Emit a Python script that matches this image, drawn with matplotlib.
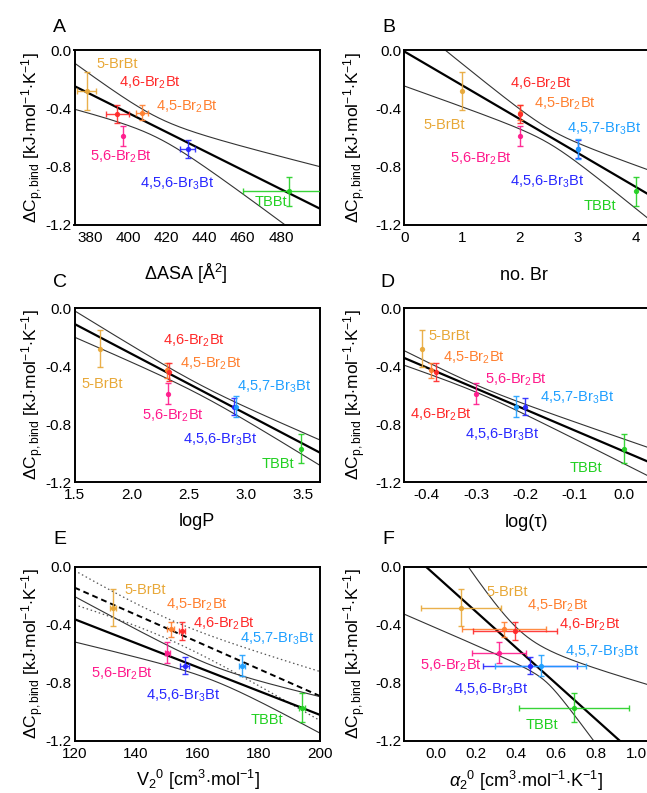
import numpy as np
import matplotlib
matplotlib.use('Agg')
import matplotlib.pyplot as plt

plt.rcParams['font.family'] = ['Liberation Sans', 'DejaVu Sans']
plt.rcParams['mathtext.fontset'] = 'custom'
plt.rcParams['mathtext.rm'] = 'Liberation Sans'
plt.rcParams['mathtext.it'] = 'Liberation Sans:italic'
plt.rcParams['mathtext.bf'] = 'Liberation Sans:bold'
plt.rcParams['axes.unicode_minus'] = False

# ---------------- data ----------------
compounds = ['5-BrBt', '4,6-Br$_2$Bt', '4,5-Br$_2$Bt', '5,6-Br$_2$Bt',
             '4,5,6-Br$_3$Bt', '4,5,7-Br$_3$Bt', 'TBBt']
colors = ['#E8A838', '#FF2A2A', '#FF8030', '#FF1A8C', '#2828FF', '#20A0FF', '#22D022']
draw_order = [0, 2, 1, 3, 4, 5, 6]

dcp = [-0.28, -0.44, -0.43, -0.59, -0.68, -0.68, -0.97]
dcp_err = [0.13, 0.06, 0.05, 0.07, 0.06, 0.07, 0.10]

# panel A: dASA (no value for 4,5,7-Br3Bt)
asa = [378, 394, 407, 397, 431, np.nan, 484]
asa_err = [5, 6, 3, 0, 4, 0, 24]
# panel B: number of Br
nbr = [1, 2, 2, 2, 3, 3, 4]
# panel C: logP
logp = [1.72, 2.33, 2.31, 2.32, 2.90, 2.91, 3.48]
# panel D: log(tau)
logtau = [-0.41, -0.38, -0.39, -0.30, -0.20, -0.22, 0.0]
# panel E: V2^0
v20 = [132.5, 155.1, 151.3, 150.2, 155.9, 174.7, 194.0]
v20_err = [1.0, 1.0, 1.0, 0.8, 1.5, 1.0, 1.0]
# panel F: alpha2^0
alpha20 = [0.125, 0.392, 0.337, 0.312, 0.47, 0.523, 0.69]
alpha20_err = [0.20, 0.21, 0.21, 0.135, 0.235, 0.227, 0.276]

# fitted lines: slope, intercept ; confidence bands: (x0, h0, k) upper, lower
fit_A = (-0.00652, 2.175); band_A = ((415, 0.07, 0.00327), (415, 0.07, 0.00327))
fit_B = (-0.232, -0.01);   band_B = ((2.5, 0.05, 0.0926), (2.5, 0.05, 0.0926))
fit_C = (-0.413, 0.5095);  band_C = ((2.6, 0.035, 0.0764), (2.6, 0.035, 0.0764))
fit_D = (-1.45, -0.99);    band_D = ((-0.29, 0.025, 0.28), (-0.29, 0.025, 0.28))
fit_E = (-0.00825, 0.63);  band_E = ((165, 0.05, 0.0033), (165, 0.05, 0.0033))
fit_E2 = (-0.00935, 0.98); band_E2 = ((150.5, 0.07, 0.00311), (150.5, 0.07, 0.00311))
fit_F = (-1.237, -0.062);  band_F = ((0.42, 0.14, 0.85), (0.55, 0.05, 0.646))

# label positions (data coords, left/center anchored)
lab_A = [(383.0, -0.096), (394.9, -0.225), (414.6, -0.39), (379.5, -0.734), (405.8, -0.917), None, (466.3, -1.044)]
lab_B = [(0.33, -0.516), (1.83, -0.23), (2.236, -0.367), (0.79, -0.745), (1.83, -0.906), (2.81, -0.539), (3.1, -1.073)]
lab_C = [(1.563, -0.523), (2.278, -0.225), (2.424, -0.385), (2.088, -0.745), (2.453, -0.906), (2.92, -0.546), (3.139, -1.078)]
lab_D = [(-0.396, -0.195), (-0.433, -0.734), (-0.366, -0.344), (-0.281, -0.493), (-0.322, -0.872), (-0.170, -0.619), (-0.11, -1.106)]
lab_E = [(136.3, -0.16), (158.6, -0.39), (149.9, -0.264), (125.4, -0.734), (143.4, -0.89), (173.9, -0.498), (177.5, -1.055)]
lab_F = [(0.253, -0.172), (0.612, -0.401), (0.453, -0.271), (-0.08, -0.683), (0.087, -0.849), (0.645, -0.585), (0.445, -1.09)]

# ---------------- figure ----------------
W, H = 647, 793
fig = plt.figure(figsize=(W / 100, H / 100), dpi=100)

def make_axes(l, t, r, b):
    return fig.add_axes([l / W, 1 - b / H, (r - l) / W, (b - t) / H])

YLABEL = r'$\Delta$C$_{\mathrm{p,bind}}$ [kJ$\cdot$mol$^{-1}$$\cdot$K$^{-1}$]'

def band(x, fit, prm, sign):
    x0, h0, k = prm
    return fit[1] + fit[0] * x + sign * np.sqrt(h0 ** 2 + (k * (x - x0)) ** 2)

def panel(box, xv, xerr, xlim, xticks, xticklabels, fit, bands, labs,
          letter, letter_xy, xlabel, xlabel_xy, ylabel_x, extra=None):
    ax = make_axes(*box)
    ax.set_xlim(*xlim)
    ax.set_ylim(-1.2, 0.0)
    xs = np.linspace(xlim[0], xlim[1], 400)
    if extra is not None:
        fit2, bands2 = extra
        ax.plot(xs, fit2[1] + fit2[0] * xs, color='black', lw=1.4, ls=(0, (3.0, 2)), zorder=2)
        ax.plot(xs, band(xs, fit2, bands2[0], 1), color='#555555', lw=0.9, ls=(0, (1.2, 2.2)), zorder=2)
        ax.plot(xs, band(xs, fit2, bands2[1], -1), color='#555555', lw=0.9, ls=(0, (1.2, 2.2)), zorder=2)
    ax.plot(xs, fit[1] + fit[0] * xs, color='black', lw=1.6, zorder=2)
    ax.plot(xs, band(xs, fit, bands[0], 1), color='#333333', lw=0.8, zorder=2)
    ax.plot(xs, band(xs, fit, bands[1], -1), color='#333333', lw=0.8, zorder=2)
    for i in draw_order:
        if np.isnan(xv[i]):
            continue
        xe = None if xerr is None or xerr[i] == 0 else xerr[i]
        ax.errorbar(xv[i], dcp[i], yerr=dcp_err[i], xerr=xe, fmt='o', ms=2.8,
                    color=colors[i], ecolor=colors[i], elinewidth=1.0,
                    capsize=2.5, capthick=1.0, zorder=3, alpha=0.9)
    for i, p in enumerate(labs):
        if p is None:
            continue
        ax.text(p[0], p[1], compounds[i], color=colors[i], fontsize=10.5,
                ha='left', va='center', zorder=4)
    ax.set_yticks([0.0, -0.4, -0.8, -1.2])
    ax.set_yticklabels(['0.0', '-0.4', '-0.8', '-1.2'])
    ax.set_xticks(xticks)
    ax.set_xticklabels(xticklabels)
    ax.tick_params(length=0, labelsize=11)
    ax.tick_params(axis='x', pad=4.5)
    ax.tick_params(axis='y', pad=2.0)
    for s in ax.spines.values():
        s.set_linewidth(1.4)
    fig.text(letter_xy[0] / W, 1 - letter_xy[1] / H, letter, fontsize=14,
             ha='left', va='baseline')
    fig.text(xlabel_xy[0] / W, 1 - xlabel_xy[1] / H, xlabel, fontsize=13,
             ha='center', va='baseline')
    fig.text(ylabel_x / W, 1 - ((box[1] + box[3]) / 2) / H, YLABEL, fontsize=12.5,
             rotation=90, ha='center', va='center')
    return ax

# A
panel((74.5, 50, 320, 225), asa, asa_err, (371.6, 500.5), [380, 400, 420, 440, 460, 480],
      ['380', '400', '420', '440', '460', '480'], fit_A, band_A, lab_A,
      'A', (53, 32), r'$\Delta$ASA [Å$^2$]', (186, 280), 33)
# B
panel((404.3, 50, 650, 225), nbr, None, (0, 4.25), [0, 1, 2, 3, 4],
      ['0', '1', '2', '3', '4'], fit_B, band_B, lab_B,
      'B', (382, 32), 'no. Br', (524, 280), 355)
# C
panel((74.5, 308, 320, 482), logp, None, (1.5, 3.65), [1.5, 2.0, 2.5, 3.0, 3.5],
      ['1.5', '2.0', '2.5', '3.0', '3.5'], fit_C, band_C, lab_C,
      'C', (53, 287), 'logP', (197, 526), 33)
# D
panel((404.3, 308, 650, 482), logtau, None, (-0.445, 0.052), [-0.4, -0.3, -0.2, -0.1, 0.0],
      ['-0.4', '-0.3', '-0.2', '-0.1', '0.0'], fit_D, band_D, lab_D,
      'D', (380, 287), 'log(τ)', (527, 527), 355)
# E
panel((74.5, 567, 320, 741), v20, v20_err, (120, 200), [120, 140, 160, 180, 200],
      ['120', '140', '160', '180', '200'], fit_E, band_E, lab_E,
      'E', (53, 544), r'V$_2$$^0$ [cm$^3$$\cdot$mol$^{-1}$]', (198, 786), 33,
      extra=(fit_E2, band_E2))
# F
panel((404.3, 567, 650, 741), alpha20, alpha20_err, (-0.16, 1.07), [0.0, 0.2, 0.4, 0.6, 0.8, 1.0],
      ['0.0', '0.2', '0.4', '0.6', '0.8', '1.0'], fit_F, band_F, lab_F,
      'F', (382, 544), r'$\alpha_2$$^0$ [cm$^3$$\cdot$mol$^{-1}$$\cdot$K$^{-1}$]', (526, 787), 355)

fig.savefig('out.png', dpi=100)
